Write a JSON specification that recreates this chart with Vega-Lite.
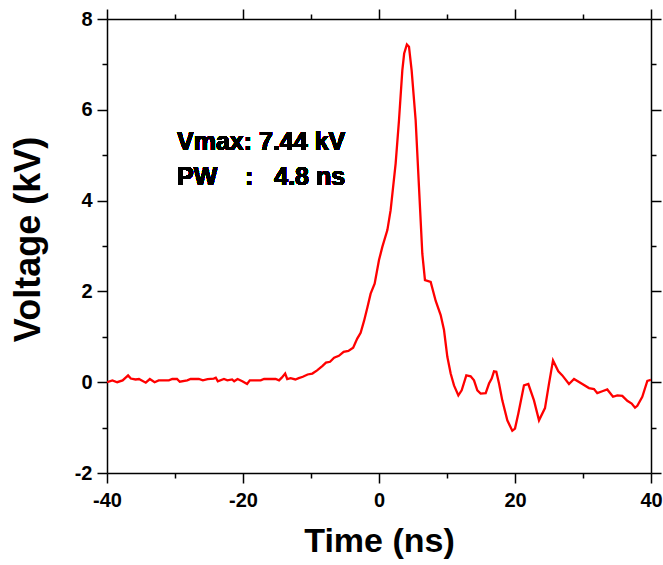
{
  "$schema": "https://vega.github.io/schema/vega-lite/v6.json",
  "width": 544,
  "height": 454,
  "autosize": {"type": "none"},
  "padding": {"left": 107, "top": 19, "right": 12, "bottom": 92},
  "background": "white",
  "config": {
    "view": {"stroke": null},
    "font": "Liberation Sans",
    "axis": {
      "grid": false,
      "domainColor": "black",
      "domainWidth": 1.5,
      "tickColor": "black",
      "tickWidth": 1.5,
      "labelFont": "Liberation Sans",
      "labelFontWeight": "bold",
      "labelFontSize": 20,
      "labelColor": "black",
      "titleFont": "Liberation Sans",
      "titleFontWeight": "bold",
      "titleFontSize": 34,
      "titleColor": "black"
    }
  },
  "data": {
    "values": [
      {"t": -40.0, "v": 0.0}, {"t": -39.2, "v": 0.04}, {"t": -38.5, "v": 0.0}, {"t": -37.7, "v": 0.04},
      {"t": -36.9, "v": 0.15}, {"t": -36.5, "v": 0.08}, {"t": -35.8, "v": 0.06}, {"t": -35.3, "v": 0.07},
      {"t": -34.3, "v": -0.01}, {"t": -33.7, "v": 0.07}, {"t": -33.0, "v": 0.0}, {"t": -32.4, "v": 0.04},
      {"t": -30.9, "v": 0.04}, {"t": -30.4, "v": 0.07}, {"t": -29.7, "v": 0.07}, {"t": -29.3, "v": 0.01},
      {"t": -28.2, "v": 0.04}, {"t": -27.7, "v": 0.07}, {"t": -26.5, "v": 0.07}, {"t": -25.9, "v": 0.04},
      {"t": -25.2, "v": 0.07}, {"t": -24.3, "v": 0.08}, {"t": -24.0, "v": 0.10}, {"t": -23.7, "v": 0.02},
      {"t": -22.8, "v": 0.07}, {"t": -22.3, "v": 0.04}, {"t": -21.6, "v": 0.06}, {"t": -21.3, "v": 0.02},
      {"t": -20.8, "v": 0.07}, {"t": -20.1, "v": 0.02}, {"t": -19.4, "v": -0.04}, {"t": -19.0, "v": 0.04},
      {"t": -17.4, "v": 0.04}, {"t": -16.9, "v": 0.07}, {"t": -15.2, "v": 0.07}, {"t": -14.7, "v": 0.04},
      {"t": -14.3, "v": 0.10}, {"t": -13.8, "v": 0.19}, {"t": -13.5, "v": 0.07}, {"t": -13.0, "v": 0.09},
      {"t": -12.3, "v": 0.06}, {"t": -11.8, "v": 0.09}, {"t": -11.2, "v": 0.12}, {"t": -10.5, "v": 0.17},
      {"t": -9.8, "v": 0.19}, {"t": -9.1, "v": 0.26}, {"t": -8.3, "v": 0.36}, {"t": -7.8, "v": 0.43},
      {"t": -7.2, "v": 0.45}, {"t": -6.6, "v": 0.54}, {"t": -5.9, "v": 0.58}, {"t": -5.2, "v": 0.67},
      {"t": -4.5, "v": 0.69}, {"t": -3.8, "v": 0.76}, {"t": -3.2, "v": 0.96}, {"t": -2.7, "v": 1.09},
      {"t": -2.2, "v": 1.35}, {"t": -1.7, "v": 1.65}, {"t": -1.23, "v": 1.95}, {"t": -0.64, "v": 2.17},
      {"t": 0.0, "v": 2.69}, {"t": 0.49, "v": 2.98}, {"t": 1.23, "v": 3.35}, {"t": 1.71, "v": 3.79},
      {"t": 2.45, "v": 4.82}, {"t": 2.94, "v": 5.77}, {"t": 3.43, "v": 6.87}, {"t": 3.7, "v": 7.24},
      {"t": 4.1, "v": 7.44}, {"t": 4.41, "v": 7.39}, {"t": 4.8, "v": 6.87}, {"t": 5.39, "v": 5.77},
      {"t": 5.88, "v": 4.30}, {"t": 6.37, "v": 2.83}, {"t": 6.76, "v": 2.25}, {"t": 7.6, "v": 2.21},
      {"t": 8.34, "v": 1.79}, {"t": 9.07, "v": 1.48}, {"t": 9.56, "v": 1.15}, {"t": 10.05, "v": 0.56},
      {"t": 10.54, "v": 0.19}, {"t": 11.03, "v": -0.07}, {"t": 11.67, "v": -0.29}, {"t": 12.16, "v": -0.18},
      {"t": 12.84, "v": 0.15}, {"t": 13.48, "v": 0.13}, {"t": 13.97, "v": 0.04}, {"t": 14.46, "v": -0.18},
      {"t": 14.95, "v": -0.25}, {"t": 15.69, "v": -0.24}, {"t": 16.18, "v": -0.03}, {"t": 16.57, "v": 0.08},
      {"t": 16.91, "v": 0.24}, {"t": 17.25, "v": 0.23}, {"t": 17.65, "v": -0.03}, {"t": 18.13, "v": -0.40},
      {"t": 18.87, "v": -0.84}, {"t": 19.6, "v": -1.07}, {"t": 20.0, "v": -1.02}, {"t": 20.49, "v": -0.69},
      {"t": 21.08, "v": -0.25}, {"t": 21.32, "v": -0.07}, {"t": 21.96, "v": -0.04}, {"t": 22.79, "v": -0.40},
      {"t": 23.53, "v": -0.84}, {"t": 24.41, "v": -0.57}, {"t": 25.0, "v": -0.03}, {"t": 25.59, "v": 0.48},
      {"t": 26.37, "v": 0.24}, {"t": 26.96, "v": 0.15}, {"t": 27.94, "v": -0.04}, {"t": 28.68, "v": 0.07},
      {"t": 29.9, "v": -0.04}, {"t": 30.88, "v": -0.13}, {"t": 31.62, "v": -0.15}, {"t": 32.1, "v": -0.24},
      {"t": 32.84, "v": -0.20}, {"t": 33.57, "v": -0.16}, {"t": 34.41, "v": -0.32}, {"t": 35.05, "v": -0.29},
      {"t": 35.78, "v": -0.30}, {"t": 36.51, "v": -0.41}, {"t": 37.16, "v": -0.47}, {"t": 37.65, "v": -0.56},
      {"t": 37.99, "v": -0.52}, {"t": 38.72, "v": -0.32}, {"t": 39.46, "v": 0.03}, {"t": 40.0, "v": 0.05}
    ]
  },
  "resolve": {"axis": {"x": "independent", "y": "independent"}},
  "layer": [
    {
      "mark": {"type": "line", "color": "#ff0000", "strokeWidth": 2.3, "clip": true},
      "encoding": {
        "x": {
          "field": "t", "type": "quantitative",
          "scale": {"domain": [-40, 40], "nice": false, "zero": false},
          "axis": {
            "orient": "bottom",
            "title": "Time (ns)",
            "values": [-40, -30, -20, -10, 0, 10, 20, 30, 40],
            "labelExpr": "datum.value % 20 === 0 ? '' + datum.value : ''",
            "tickSize": {"condition": {"test": "datum.value % 20 === 0", "value": 10}, "value": 5},
            "labelPadding": 7,
            "labelFlush": false,
            "titlePadding": 14
          }
        },
        "y": {
          "field": "v", "type": "quantitative",
          "scale": {"domain": [-2, 8], "nice": false, "zero": false},
          "axis": {
            "orient": "left",
            "title": "Voltage (kV)",
            "titleFontSize": 36,
            "titleY": 220,
            "values": [-2, -1, 0, 1, 2, 3, 4, 5, 6, 7, 8],
            "labelExpr": "datum.value % 2 === 0 ? '' + datum.value : ''",
            "tickSize": {"condition": {"test": "datum.value % 2 === 0", "value": 10}, "value": 5},
            "labelPadding": 5,
            "labelFlush": false,
            "titlePadding": 27
          }
        }
      }
    },
    {
      "mark": {"type": "line", "color": "#ff0000", "strokeWidth": 2, "opacity": 0},
      "encoding": {
        "x": {
          "field": "t", "type": "quantitative",
          "axis": {
            "orient": "top",
            "title": null,
            "values": [-40, -30, -20, -10, 0, 10, 20, 30, 40],
            "labels": false,
            "tickSize": {"condition": {"test": "datum.value % 20 === 0", "value": 10}, "value": 5}
          }
        },
        "y": {
          "field": "v", "type": "quantitative",
          "axis": {
            "orient": "right",
            "title": null,
            "values": [-2, -1, 0, 1, 2, 3, 4, 5, 6, 7, 8],
            "labels": false,
            "tickSize": {"condition": {"test": "datum.value % 2 === 0", "value": 10}, "value": 5}
          }
        }
      }
    },
    {
      "mark": {"type": "text", "align": "left", "baseline": "alphabetic", "fontSize": 25, "fontWeight": "bold", "font": "Liberation Sans", "color": "black", "text": "Vmax: 7.44 kV"},
      "encoding": {
        "x": {"datum": -29.7, "type": "quantitative", "axis": null},
        "y": {"datum": 5.11, "type": "quantitative", "axis": null}
      }
    },
    {
      "mark": {"type": "text", "align": "left", "baseline": "alphabetic", "fontSize": 25, "fontWeight": "bold", "font": "Liberation Sans", "color": "black", "text": "PW\u00a0\u00a0\u00a0\u00a0:\u00a0\u00a0\u00a04.8 ns"},
      "encoding": {
        "x": {"datum": -29.7, "type": "quantitative", "axis": null},
        "y": {"datum": 4.34, "type": "quantitative", "axis": null}
      }
    }
  ]
}
